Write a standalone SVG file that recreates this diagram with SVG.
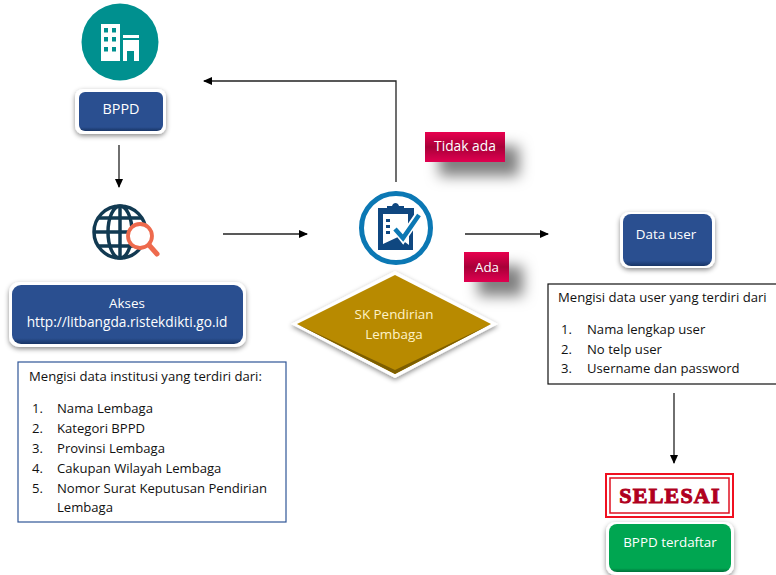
<svg xmlns="http://www.w3.org/2000/svg" width="776" height="575" viewBox="0 0 776 575">
<style>
text{font-family:"Open Sans","Noto Sans","Liberation Sans",sans-serif}
.w{fill:#fff;font-size:13.400px;text-anchor:middle}
.k{fill:#111;font-size:13.100px}
.frame{fill:#fff;filter:url(#soft)}
.blue{fill:url(#bl)}
.con{fill:none;stroke:#222;stroke-width:1.300}
</style>
<defs>
<linearGradient id="bl" x1="0" y1="0" x2="0" y2="1"><stop offset="0" stop-color="#2a4f90"/><stop offset=".9" stop-color="#2a4f90"/><stop offset="1" stop-color="#183566"/></linearGradient>
<linearGradient id="gr" x1="0" y1="0" x2="0" y2="1"><stop offset="0" stop-color="#00a651"/><stop offset=".92" stop-color="#00a651"/><stop offset="1" stop-color="#00703a"/></linearGradient>
<linearGradient id="rd" x1="0" y1="0" x2="0" y2="1"><stop offset="0" stop-color="#e8004f"/><stop offset=".5" stop-color="#a80038"/><stop offset="1" stop-color="#e00050"/></linearGradient>
<filter id="soft" x="-20%" y="-20%" width="140%" height="150%"><feDropShadow dx="0" dy="2" stdDeviation="2.500" flood-color="#000" flood-opacity=".45"/></filter>
<filter id="far" x="-40%" y="-60%" width="220%" height="300%"><feDropShadow dx="14" dy="14" stdDeviation="7" flood-color="#000" flood-opacity=".5"/></filter>
<marker id="a" markerWidth="9" markerHeight="8" refX="8" refY="4" orient="auto" markerUnits="userSpaceOnUse"><path d="M0 0L9 4L0 8Z" fill="#000"/></marker>
</defs>

<g id="connectors">
<path class="con" d="M119 145V187" marker-end="url(#a)"/>
<path class="con" d="M223 234H307" marker-end="url(#a)"/>
<path class="con" d="M396 182V81H204" marker-end="url(#a)"/>
<path class="con" d="M465 234H548" marker-end="url(#a)"/>
<path class="con" d="M674 393V463" marker-end="url(#a)"/>
</g>

<g id="icon-building">
<circle cx="120" cy="42" r="38.500" fill="#00908f"/>
<path fill="#fff" d="M101 24H120V61H101ZM123 35H139V38H123ZM123 40H139V61H134V51H127V61H123Z"/>
<g fill="#00908f"><rect x="104" y="28" width="4" height="4.500"/><rect x="112" y="28" width="4" height="4.500"/><rect x="104" y="37" width="4" height="4.500"/><rect x="112" y="37" width="4" height="4.500"/><rect x="104" y="47" width="4" height="4.500"/><rect x="112" y="47" width="4" height="4.500"/></g>
</g>

<g id="node-bppd">
<rect class="frame" x="75" y="89" width="91" height="45" rx="8"/>
<rect class="blue" x="79" y="92" width="84" height="39" rx="6"/>
<text class="w" x="121" y="114" style="font-size:14.400px">BPPD</text>
</g>

<g id="icon-globe">
<g fill="none" stroke="#123a52" stroke-width="3.500">
<circle cx="120" cy="232" r="26"/>
<ellipse cx="120" cy="232" rx="12" ry="26"/>
<path d="M120 206V258M94 232H146M99 218H141M99 246H141"/>
</g>
<circle cx="140" cy="236" r="12" fill="#fff" stroke="#ee6a4d" stroke-width="3.800"/>
<path d="M149 245L157 254" stroke="#ee6a4d" stroke-width="5" stroke-linecap="round"/>
</g>

<g id="node-akses">
<rect class="frame" x="9" y="282" width="237" height="65" rx="10"/>
<rect class="blue" x="12" y="285" width="231" height="59" rx="9"/>
<text class="w" x="127" y="308">Akses</text>
<text class="w" x="127" y="327" style="font-size:13.700px">http://litbangda.ristekdikti.go.id</text>
</g>

<g id="node-institusi">
<rect x="18" y="362" width="268" height="160" fill="#fff" stroke="#2f5597" stroke-width="1.200"/>
<text class="k" x="29" y="381">Mengisi data institusi yang terdiri dari:</text>
<text class="k" x="32" y="413">1.</text><text class="k" x="57" y="413">Nama Lembaga</text>
<text class="k" x="32" y="433">2.</text><text class="k" x="57" y="433">Kategori BPPD</text>
<text class="k" x="32" y="453">3.</text><text class="k" x="57" y="453">Provinsi Lembaga</text>
<text class="k" x="32" y="473">4.</text><text class="k" x="57" y="473">Cakupan Wilayah Lembaga</text>
<text class="k" x="32" y="493">5.</text><text class="k" x="57" y="493">Nomor Surat Keputusan Pendirian</text>
<text class="k" x="57" y="512">Lembaga</text>
</g>

<g id="icon-checklist">
<circle cx="396" cy="228" r="34.500" fill="#fff" stroke="#0b78b4" stroke-width="5"/>
<path fill="#0f4780" d="M378 208H414V224L408 231V214H383V244L398 237L409 245V230L413 226V250H378Z"/>
<path fill="#0f4780" d="M387 206H392C393 202 398 202 399 206H404V212H387Z"/>
<g fill="#0f4780"><rect x="386" y="219" width="4" height="3"/><rect x="386" y="225" width="4" height="3"/><rect x="386" y="231" width="4" height="3"/></g>
<path fill="none" stroke="#fff" stroke-width="8" d="M396 229L403 238L418 216"/>
<path fill="none" stroke="#0b78b4" stroke-width="4.500" d="M395 229L403 238L419 215"/>
</g>

<g id="node-sk">
<path d="M395 271L498 324L395 378L291 324Z" fill="#fff" filter="url(#soft)"/>
<path d="M395 275L491 324L395 374L297 324Z" fill="#b88a00"/>
<path d="M297 324L395 374L491 324L395 370Z" fill="#7d5e00"/>
<text class="w" x="394" y="319" style="fill:#fff3c8">SK Pendirian</text>
<text class="w" x="394" y="339" style="fill:#fff3c8">Lembaga</text>
</g>

<g id="label-tidak-ada">
<rect x="425" y="132" width="80" height="30" fill="url(#rd)" filter="url(#far)"/>
<text class="w" x="465" y="151" style="font-size:13.800px">Tidak ada</text>
</g>

<g id="label-ada">
<rect x="464" y="252" width="45" height="30" fill="url(#rd)" filter="url(#far)"/>
<text class="w" x="487" y="272">Ada</text>
</g>

<g id="node-data-user">
<rect class="frame" x="620" y="212" width="95" height="56" rx="9"/>
<rect class="blue" x="623" y="214" width="89" height="52" rx="8"/>
<text class="w" x="666" y="239">Data user</text>
</g>

<g id="node-user-list">
<rect x="548" y="284" width="232" height="100" fill="#fff" stroke="#111" stroke-width="1.200"/>
<text class="k" x="558" y="302">Mengisi data user yang terdiri dari</text>
<text class="k" x="561" y="334">1.</text><text class="k" x="587" y="334">Nama lengkap user</text>
<text class="k" x="561" y="354">2.</text><text class="k" x="587" y="354">No telp user</text>
<text class="k" x="561" y="373">3.</text><text class="k" x="587" y="373">Username dan password</text>
</g>

<g id="node-selesai">
<rect x="606" y="474" width="127" height="43" fill="#fff" stroke="#f01020" stroke-width="2"/>
<rect x="610" y="478" width="119" height="35" fill="none" stroke="#e01020" stroke-width="1.500"/>
<text x="670" y="503" text-anchor="middle" style="font-family:'Liberation Serif',serif;font-weight:bold;font-size:22px;letter-spacing:1.200px;fill:#b00020;stroke:#b00020;stroke-width:1">SELESAI</text>
</g>

<g id="node-terdaftar">
<rect class="frame" x="606" y="522" width="128" height="53" rx="9"/>
<rect x="609" y="524" width="122" height="48" rx="8" fill="url(#gr)"/>
<text class="w" x="670" y="547">BPPD terdaftar</text>
</g>
</svg>
